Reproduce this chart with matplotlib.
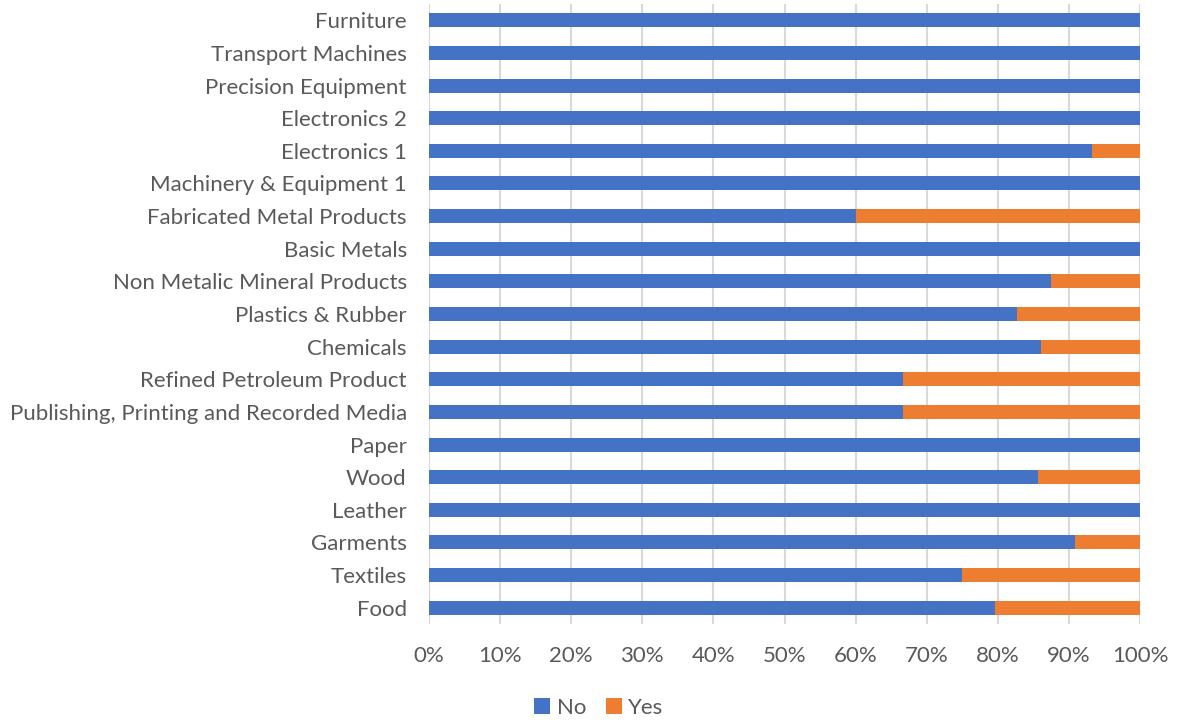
import matplotlib
matplotlib.use("Agg")
import matplotlib.pyplot as plt
import numpy as np
from matplotlib.ticker import PercentFormatter

categories = ["Food", "Textiles", "Garments", "Leather", "Wood", "Paper",
              "Publishing, Printing and Recorded Media", "Refined Petroleum Product",
              "Chemicals", "Plastics & Rubber", "Non Metalic Mineral Products",
              "Basic Metals", "Fabricated Metal Products", "Machinery & Equipment 1",
              "Electronics 1", "Electronics 2", "Precision Equipment",
              "Transport Machines", "Furniture"]
no_vals = [79.6, 75.0, 90.9, 100.0, 85.7, 100.0, 66.7, 66.7, 86.1, 82.7, 87.5,
           100.0, 60.0, 100.0, 93.3, 100.0, 100.0, 100.0, 100.0]
yes_vals = [100 - v for v in no_vals]
xticks = list(range(0, 101, 10))

plt.rcParams['font.family'] = ['Lato', 'DejaVu Sans']
text_color = "#595959"
fs = 16

fig = plt.figure(figsize=(11.78, 7.24), dpi=100)
ax = fig.add_axes([429/1178, 100/724, 711/1178, 620/724])

y = np.arange(len(categories))
ax.barh(y, no_vals, height=0.43, color="#4472C4", label="No", zorder=3)
ax.barh(y, yes_vals, left=no_vals, height=0.43, color="#ED7D31", label="Yes", zorder=3)

ax.set_xlim(0, 100)
ax.set_ylim(-0.5, len(categories) - 0.5)
ax.set_xticks(xticks)
ax.xaxis.set_major_formatter(PercentFormatter(decimals=0))
ax.set_yticks(y)
ax.set_yticklabels(categories)
ax.grid(axis="x", color="#D9D9D9", linewidth=1.5, zorder=0)
for s in ax.spines.values():
    s.set_visible(False)
ax.tick_params(axis="both", length=0, colors=text_color, labelsize=fs)
ax.tick_params(axis="x", pad=16)
ax.tick_params(axis="y", pad=16)

leg = fig.legend(loc="center", bbox_to_anchor=(599/1178, 1 - 708/724), ncol=2,
                 frameon=False, fontsize=fs, handlelength=0.7, handleheight=0.7,
                 handletextpad=0.3, columnspacing=0.9)
for t in leg.get_texts():
    t.set_color(text_color)

fig.savefig("out.png", dpi=100)
